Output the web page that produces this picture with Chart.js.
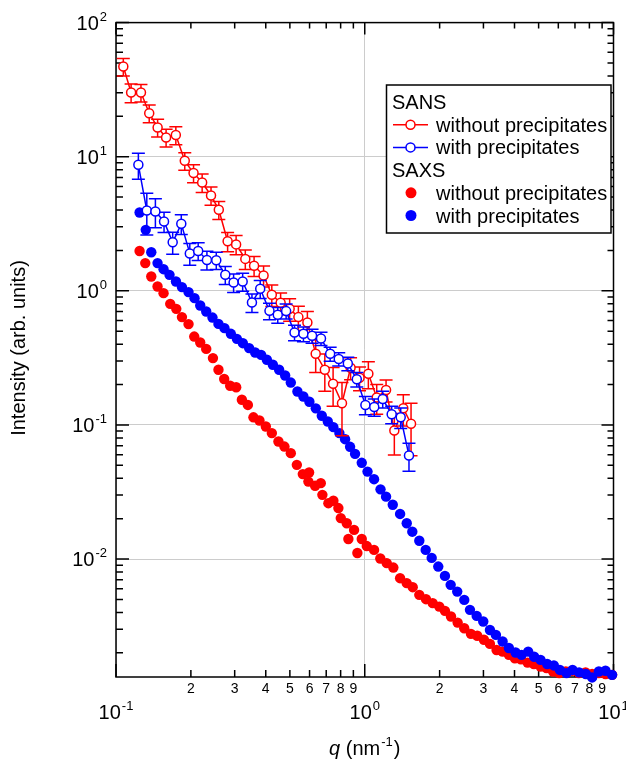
<!DOCTYPE html>
<html lang="en">
<head>
<meta charset="UTF-8" />
<title>SANS / SAXS intensity</title>
<script src="https://cdn.jsdelivr.net/npm/chart.js"></script>
<style>
  body { margin: 0; background: #fff; }
  canvas { display: block; }
</style>
</head>
<body>
<canvas id="chart" width="626" height="765"></canvas>
<script>
// SANS, open circles with error bars
const sansRedQ = [0.107,0.115,0.126,0.136,0.147,0.159,0.174,0.189,0.205,0.222,0.241,0.259,0.281,0.304,0.331,0.359,0.392,0.423,0.459,0.499,0.541,0.588,0.635,0.691,0.746,0.810,0.877,0.953,1.034,1.117,1.218,1.315,1.429,1.535];
const sansRedI = [47.0,30.1,30.1,21.1,16.5,13.9,14.5,9.32,7.55,6.42,5.14,4.02,2.34,2.22,1.73,1.54,1.30,0.934,0.814,0.734,0.637,0.580,0.339,0.258,0.203,0.145,0.267,0.225,0.241,0.160,0.182,0.0908,0.133,0.102];
const sansRedErr = [7.0,4.8,4.5,3.2,2.5,2.1,2.2,1.4,1.15,1.0,0.8,0.62,0.38,0.36,0.29,0.26,0.23,0.17,0.15,0.14,0.13,0.12,0.093,0.08,0.065,0.062,0.05,0.045,0.055,0.04,0.034,0.031,0.035,0.043];

const sansBlueQ = [0.123,0.133,0.144,0.156,0.169,0.183,0.198,0.214,0.232,0.253,0.275,0.297,0.323,0.352,0.380,0.414,0.447,0.483,0.522,0.567,0.614,0.667,0.726,0.786,0.855,0.929,1.006,1.092,1.181,1.283,1.395,1.506];
const sansBlueI = [8.70,3.97,3.90,3.29,2.30,3.16,1.90,1.98,1.70,1.69,1.316,1.153,1.173,0.818,1.035,0.709,0.662,0.706,0.489,0.478,0.462,0.441,0.339,0.310,0.287,0.219,0.141,0.136,0.156,0.120,0.114,0.0591];
const sansBlueErr = [1.9,1.36,0.95,0.57,0.43,0.53,0.35,0.3,0.27,0.25,0.2,0.18,0.18,0.13,0.16,0.1,0.09,0.09,0.065,0.06,0.055,0.05,0.04,0.035,0.033,0.027,0.022,0.02,0.022,0.018,0.02,0.014];

// SAXS, filled circles
const saxsRedQ = [0.1244,0.1311,0.1386,0.1469,0.1553,0.1652,0.1747,0.1841,0.1957,0.2063,0.2181,0.2305,0.2453,0.2582,0.2722,0.2877,0.3042,0.3206,0.3389,0.3569,0.3773,0.4003,0.4232,0.4498,0.4755,0.5044,0.5333,0.5636,0.5974,0.5936,0.6316,0.6657,0.6756,0.7142,0.7480,0.7834,0.8010,0.8467,0.8593,0.9059,0.9339,0.9727,1.019,1.090,1.155,1.226,1.303,1.387,1.475,1.559,1.657,1.763,1.876,1.994,2.101,2.222,2.363,2.512,2.673,2.833,3.014,3.186,3.389,3.583,3.797,4.014,4.243,4.515,4.786,5.091,5.382,5.720,6.046,6.432,6.820,7.254,7.720,8.205,8.730,9.288,9.872];
const saxsRedI = [1.98,1.61,1.28,1.077,0.961,0.800,0.734,0.637,0.565,0.456,0.412,0.369,0.315,0.258,0.220,0.196,0.191,0.154,0.141,0.114,0.108,0.0973,0.0869,0.0752,0.0690,0.0616,0.0504,0.0430,0.0442,0.0378,0.0352,0.0368,0.0301,0.0261,0.0272,0.0240,0.0202,0.0185,0.0141,0.0165,0.0111,0.0141,0.0125,0.0117,0.0101,0.00932,0.00864,0.00720,0.00661,0.00617,0.00541,0.00502,0.00469,0.00442,0.00411,0.00373,0.00336,0.00305,0.00277,0.00268,0.00250,0.00233,0.00210,0.00204,0.00193,0.00182,0.00179,0.00169,0.00165,0.00158,0.00154,0.00145,0.00141,0.00145,0.00147,0.00141,0.00143,0.00139,0.00141,0.00139,0.00137];

const saxsBlueQ = [0.1244,0.1317,0.1386,0.1469,0.1553,0.1641,0.1742,0.1841,0.1957,0.2069,0.2181,0.2305,0.2443,0.2582,0.2730,0.2896,0.3062,0.3236,0.3430,0.3626,0.3833,0.4041,0.4272,0.4526,0.4786,0.5044,0.5362,0.5667,0.5991,0.6357,0.6720,0.7103,0.7480,0.7907,0.8336,0.8730,0.9142,0.9727,1.026,1.090,1.157,1.218,1.296,1.387,1.475,1.553,1.657,1.758,1.858,1.975,2.101,2.215,2.354,2.512,2.648,2.818,2.995,3.186,3.367,3.583,3.797,4.040,4.270,4.540,4.798,5.091,5.412,5.757,6.086,6.474,6.845,7.274,7.742,8.205,8.730,9.288,9.872];
const saxsBlueI = [3.84,2.85,1.94,1.61,1.45,1.316,1.173,1.066,0.978,0.882,0.777,0.701,0.632,0.567,0.527,0.478,0.4385,0.407,0.374,0.347,0.333,0.306,0.281,0.258,0.2335,0.207,0.1775,0.163,0.149,0.133,0.117,0.106,0.0963,0.0869,0.0783,0.0687,0.0609,0.0522,0.0449,0.0394,0.0331,0.0292,0.0254,0.0217,0.0185,0.0160,0.0137,0.0117,0.0102,0.00879,0.00749,0.00642,0.00572,0.00496,0.00418,0.00377,0.00342,0.00296,0.00272,0.00243,0.00217,0.00201,0.00193,0.00204,0.00187,0.00177,0.00165,0.00161,0.00149,0.00141,0.00149,0.00143,0.00139,0.00131,0.00145,0.00147,0.00137];

// axes
const xMin = 0.1, xMax = 10;
const yMin = 0.00132, yMax = 100;
const xDecades = [-1, 0, 1];
const yDecades = [-2, -1, 0, 1, 2];
const minorDigits = [2, 3, 4, 5, 6, 7, 8, 9];

const legendRows = [
  { text: 'SANS', header: true },
  { text: 'without precipitates', color: '#ff0000', open: true },
  { text: 'with precipitates', color: '#0000ff', open: true },
  { text: 'SAXS', header: true },
  { text: 'without precipitates', color: '#ff0000', open: false },
  { text: 'with precipitates', color: '#0000ff', open: false }
];

const FONT = "'Liberation Sans', Arial, Helvetica, sans-serif";

function pts(qs, is) {
  return qs.map((q, i) => ({ x: q, y: is[i] }));
}

// "10" with a raised exponent
function drawPow(ctx, exp, x, y, align, size) {
  ctx.font = size + 'px ' + FONT;
  const wb = ctx.measureText('10').width;
  const supSize = Math.round(size * 0.66);
  ctx.font = supSize + 'px ' + FONT;
  const we = ctx.measureText(String(exp)).width;
  const w = wb + we + 1;
  let x0 = x;
  if (align === 'right') x0 = x - w;
  if (align === 'center') x0 = x - w / 2;
  ctx.textAlign = 'left';
  ctx.font = size + 'px ' + FONT;
  ctx.fillText('10', x0, y);
  ctx.font = supSize + 'px ' + FONT;
  ctx.fillText(String(exp), x0 + wb + 1, y - size * 0.45);
}

const errorBars = {
  id: 'errorBars',
  beforeDatasetDraw(chart, args) {
    const ds = chart.data.datasets[args.index];
    if (!ds.errors) return;
    const ctx = chart.ctx;
    const xs = chart.scales.x, ys = chart.scales.y;
    ctx.save();
    ctx.strokeStyle = ds.borderColor;
    ctx.lineWidth = 1.5;
    ds.data.forEach((p, i) => {
      const e = ds.errors[i];
      const px = xs.getPixelForValue(p.x);
      const top = ys.getPixelForValue(p.y + e);
      const bot = ys.getPixelForValue(Math.max(p.y - e, yMin * 0.5));
      ctx.beginPath();
      ctx.moveTo(px, top); ctx.lineTo(px, bot);
      ctx.moveTo(px - 6.5, top); ctx.lineTo(px + 6.5, top);
      ctx.moveTo(px - 6.5, bot); ctx.lineTo(px + 6.5, bot);
      ctx.stroke();
    });
    ctx.restore();
  }
};

const frameAndTicks = {
  id: 'frameAndTicks',
  beforeDatasetsDraw(chart) {
    const ctx = chart.ctx;
    const a = chart.chartArea;
    const xs = chart.scales.x, ys = chart.scales.y;
    ctx.save();
    ctx.strokeStyle = '#000';
    ctx.lineWidth = 1.5;
    ctx.strokeRect(a.left, a.top, a.right - a.left, a.bottom - a.top);
    ctx.beginPath();
    // x ticks, pointing inward from bottom and top
    xDecades.forEach(d => {
      const base = Math.pow(10, d);
      const px = xs.getPixelForValue(base);
      if (base >= xMin && base <= xMax) {
        ctx.moveTo(px, a.bottom); ctx.lineTo(px, a.bottom - 13);
        ctx.moveTo(px, a.top); ctx.lineTo(px, a.top + 12);
      }
      minorDigits.forEach(m => {
        const v = m * base;
        if (v <= xMin || v >= xMax) return;
        const p = xs.getPixelForValue(v);
        ctx.moveTo(p, a.bottom); ctx.lineTo(p, a.bottom - 7);
        ctx.moveTo(p, a.top); ctx.lineTo(p, a.top + 6);
      });
    });
    // y ticks, left and right
    [-3].concat(yDecades).forEach(d => {
      const base = Math.pow(10, d);
      if (base >= yMin && base <= yMax) {
        const py = ys.getPixelForValue(base);
        ctx.moveTo(a.left, py); ctx.lineTo(a.left + 13, py);
        ctx.moveTo(a.right, py); ctx.lineTo(a.right - 12, py);
      }
      minorDigits.forEach(m => {
        const v = m * base;
        if (v <= yMin || v >= yMax) return;
        const p = ys.getPixelForValue(v);
        ctx.moveTo(a.left, p); ctx.lineTo(a.left + 7, p);
        ctx.moveTo(a.right, p); ctx.lineTo(a.right - 6, p);
      });
    });
    ctx.stroke();
    ctx.restore();
  },
  afterDraw(chart) {
    const ctx = chart.ctx;
    const a = chart.chartArea;
    const xs = chart.scales.x, ys = chart.scales.y;
    ctx.save();
    ctx.fillStyle = '#000';
    ctx.textBaseline = 'alphabetic';

    // y tick labels
    yDecades.forEach(d => {
      const py = ys.getPixelForValue(Math.pow(10, d));
      drawPow(ctx, d, 107, py + 7, 'right', 20);
    });
    // x tick labels
    xDecades.forEach(d => {
      const px = xs.getPixelForValue(Math.pow(10, d));
      drawPow(ctx, d, px, a.bottom + 42, 'center', 20);
    });
    ctx.font = '14px ' + FONT;
    ctx.textAlign = 'center';
    [-1, 0].forEach(d => {
      minorDigits.forEach(m => {
        const px = xs.getPixelForValue(m * Math.pow(10, d));
        ctx.fillText(String(m), px, a.bottom + 16);
      });
    });

    // axis titles
    ctx.save();
    ctx.translate(25, 348);
    ctx.rotate(-Math.PI / 2);
    ctx.font = '20px ' + FONT;
    ctx.textAlign = 'center';
    ctx.fillText('Intensity (arb. units)', 0, 0);
    ctx.restore();

    const cx = (a.left + a.right) / 2;
    const ty = 755;
    ctx.textAlign = 'left';
    ctx.font = 'italic 20px ' + FONT;
    const wq = ctx.measureText('q').width;
    ctx.font = '20px ' + FONT;
    const w1 = ctx.measureText(' (nm').width;
    ctx.font = '13px ' + FONT;
    const w2 = ctx.measureText('-1').width;
    ctx.font = '20px ' + FONT;
    const w3 = ctx.measureText(')').width;
    let x0 = cx - (wq + w1 + w2 + w3 + 2) / 2;
    ctx.font = 'italic 20px ' + FONT;
    ctx.fillText('q', x0, ty); x0 += wq;
    ctx.font = '20px ' + FONT;
    ctx.fillText(' (nm', x0, ty); x0 += w1 + 1;
    ctx.font = '13px ' + FONT;
    ctx.fillText('-1', x0, ty - 9); x0 += w2 + 1;
    ctx.font = '20px ' + FONT;
    ctx.fillText(')', x0, ty);

    // legend box
    const lx = 386.5, ly = 85, lw = 224.5, lh = 148;
    ctx.fillStyle = '#fff';
    ctx.fillRect(lx, ly, lw, lh);
    ctx.strokeStyle = '#000';
    ctx.lineWidth = 1.5;
    ctx.strokeRect(lx, ly, lw, lh);
    ctx.font = '20px ' + FONT;
    legendRows.forEach((r, i) => {
      const by = 109 + i * 22.7;
      ctx.fillStyle = '#000';
      if (r.header) {
        ctx.fillText(r.text, 392, by);
        return;
      }
      ctx.fillText(r.text, 436, by);
      const my = by - 7;
      if (r.open) {
        ctx.strokeStyle = r.color;
        ctx.lineWidth = 1.5;
        ctx.beginPath();
        ctx.moveTo(393, my); ctx.lineTo(428, my);
        ctx.stroke();
        ctx.fillStyle = '#fff';
        ctx.beginPath();
        ctx.arc(410.5, my, 4.5, 0, Math.PI * 2);
        ctx.fill();
        ctx.stroke();
      } else {
        ctx.fillStyle = r.color;
        ctx.beginPath();
        ctx.arc(411, my, 5.5, 0, Math.PI * 2);
        ctx.fill();
      }
    });
    ctx.restore();
  }
};

new Chart(document.getElementById('chart'), {
  type: 'scatter',
  data: {
    datasets: [
      {
        label: 'SANS with precipitates',
        data: pts(sansBlueQ, sansBlueI),
        errors: sansBlueErr,
        showLine: true,
        borderColor: '#0000ff',
        borderWidth: 1.5,
        pointRadius: 4.5,
        pointBackgroundColor: '#ffffff',
        pointBorderColor: '#0000ff',
        pointBorderWidth: 1.5,
        clip: false,
        order: 0
      },
      {
        label: 'SANS without precipitates',
        data: pts(sansRedQ, sansRedI),
        errors: sansRedErr,
        showLine: true,
        borderColor: '#ff0000',
        borderWidth: 1.5,
        pointRadius: 4.5,
        pointBackgroundColor: '#ffffff',
        pointBorderColor: '#ff0000',
        pointBorderWidth: 1.5,
        clip: false,
        order: 1
      },
      {
        label: 'SAXS with precipitates',
        data: pts(saxsBlueQ, saxsBlueI),
        pointRadius: 5.2,
        pointBackgroundColor: '#0000ff',
        pointBorderWidth: 0,
        borderColor: '#0000ff',
        clip: false,
        order: 2
      },
      {
        label: 'SAXS without precipitates',
        data: pts(saxsRedQ, saxsRedI),
        pointRadius: 5.2,
        pointBackgroundColor: '#ff0000',
        pointBorderWidth: 0,
        borderColor: '#ff0000',
        clip: false,
        order: 3
      }
    ]
  },
  options: {
    responsive: false,
    animation: false,
    devicePixelRatio: 1,
    layout: { padding: { left: 116, right: 12.5, top: 22.6, bottom: 88 } },
    plugins: { legend: { display: false }, tooltip: { enabled: false } },
    scales: {
      x: {
        type: 'logarithmic',
        min: xMin, max: xMax,
        ticks: { display: false },
        border: { display: false },
        grid: { color: '#cccccc', lineWidth: 1, drawTicks: false },
        afterBuildTicks: s => { s.ticks = xDecades.map(d => ({ value: Math.pow(10, d) })); }
      },
      y: {
        type: 'logarithmic',
        min: yMin, max: yMax,
        ticks: { display: false },
        border: { display: false },
        grid: { color: '#cccccc', lineWidth: 1, drawTicks: false },
        afterBuildTicks: s => { s.ticks = yDecades.map(d => ({ value: Math.pow(10, d) })); }
      }
    }
  },
  plugins: [errorBars, frameAndTicks]
});
</script>
</body>
</html>
